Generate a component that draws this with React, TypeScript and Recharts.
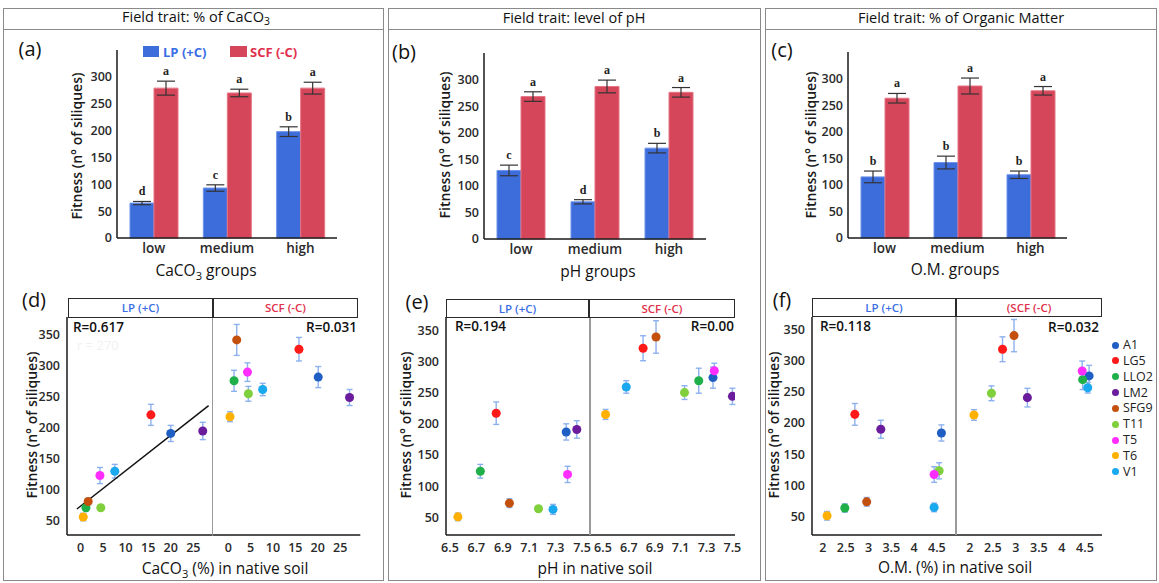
import React from "react";
import {
  BarChart,
  Bar,
  XAxis,
  YAxis,
  ErrorBar,
  LabelList,
  ScatterChart,
  Scatter,
  Cell,
  ReferenceLine,
} from "recharts";

// ---- bar panels (a)-(c) ----
const groups = ["low", "medium", "high"];

const caco3LP = [65, 93, 198];
const caco3LPErr = [3, 6, 9];
const caco3SCF = [279, 270, 279];
const caco3SCFErr = [13, 7, 11];
const caco3LPLetters = ["d", "c", "b"];
const caco3SCFLetters = ["a", "a", "a"];

const phLP = [129, 70, 171];
const phLPErr = [10, 4, 9];
const phSCF = [268, 287, 276];
const phSCFErr = [9, 12, 9];
const phLPLetters = ["c", "d", "b"];
const phSCFLetters = ["a", "a", "a"];

const omLP = [115, 142, 119];
const omLPErr = [11, 12, 7];
const omSCF = [263, 286, 277];
const omSCFErr = [9, 15, 8];
const omLPLetters = ["b", "b", "b"];
const omSCFLetters = ["a", "a", "a"];

const barTicks = [0, 50, 100, 150, 200, 250, 300];

// ---- scatter panels (d)-(f) ----
const lines = ["A1", "LG5", "LLO2", "LM2", "SFG9", "T11", "T5", "T6", "V1"];
const lineColors = ["#1f5fc4", "#ff1a1a", "#1fb04a", "#6a1c9c", "#c4500e", "#80cf3c", "#ff2eff", "#ffb000", "#1aa8ee"];

const caco3LPx = [20, 15.6, 1.2, 27.1, 1.7, 4.5, 4.3, 0.6, 7.6];
const caco3LPy = [190, 220, 70, 194, 80, 70, 122, 55, 129];
const caco3LPe = [13, 17, 5, 14, 5, 4, 13, 6, 11];
const caco3SCFx = [20.1, 15.8, 1.3, 27.1, 1.9, 4.5, 4.3, 0.4, 7.7];
const caco3SCFy = [281, 326, 275, 248, 341, 254, 289, 217, 261];
const caco3SCFe = [17, 19, 17, 13, 25, 12, 15, 8, 10];
const caco3Fit = [
  { x: -0.8, y: 68 },
  { x: 28.4, y: 235 },
];

const phLPx = [7.38, 6.85, 6.73, 7.46, 6.95, 7.17, 7.39, 6.56, 7.28];
const phLPy = [187, 217, 124, 191, 73, 64, 119, 51, 63];
const phLPe = [13, 18, 11, 14, 7, 4, 13, 6, 8];
const phSCFx = [7.35, 6.81, 7.24, 7.5, 6.91, 7.13, 7.36, 6.52, 6.68];
const phSCFy = [274, 321, 269, 244, 339, 250, 285, 215, 259];
const phSCFe = [17, 20, 20, 13, 26, 11, 12, 8, 10];

const omLPx = [4.6, 2.7, 2.48, 3.27, 2.96, 4.55, 4.44, 2.09, 4.44];
const omLPy = [184, 214, 63, 190, 73, 123, 117, 50.5, 64];
const omLPe = [13, 17.5, 6.7, 14.5, 7, 13, 12.6, 7, 7];
const omSCFx = [4.59, 2.71, 4.45, 3.25, 2.96, 2.47, 4.44, 2.09, 4.56];
const omSCFy = [276, 319, 270, 241, 341, 248, 284, 213, 257];
const omSCFe = [17, 20, 16, 15, 26, 12, 16, 8.6, 8.6];

const scatterTicks = [50, 100, 150, 200, 250, 300, 350];
const caco3Ticks = [0, 5, 10, 15, 20, 25];
const phTicks = [6.5, 6.7, 6.9, 7.1, 7.3, 7.5];
const omTicks = [2, 2.5, 3, 3.5, 4, 4.5];

const FONT = "'Open Sans', 'DejaVu Sans', sans-serif";
const BLUE = "#3d6ddb";
const RED = "#d5465a";
const LPTXT = "#3a6ee6";
const SCFTXT = "#e0304c";

const tickStyle = { fontSize: 12.5, fontWeight: 600, fill: "#2a2a2a", fontFamily: FONT };

function letterLabel(letters: string[], errs: number[], vals: number[]) {
  return (props: any) => {
    const vb = props.viewBox && props.viewBox.width !== undefined ? props.viewBox : props;
    const { x, y, width, height } = vb;
    const i = props.index;
    if (i === undefined || !height) return null;
    const errPx = (errs[i] / vals[i]) * height;
    return (
      <text
        x={x + width / 2}
        y={y - errPx - 6}
        textAnchor="middle"
        fontFamily="'Liberation Serif', serif"
        fontWeight={700}
        fontSize={12}
        fill="#222"
      >
        {letters[i]}
      </text>
    );
  };
}

interface BarPanelProps {
  px: number;
  py: number;
  pw: number;
  ph: number;
  lp: number[];
  lpErr: number[];
  scf: number[];
  scfErr: number[];
  lpLetters: string[];
  scfLetters: string[];
}

function BarPanel({ px, py, pw, ph, lp, lpErr, scf, scfErr, lpLetters, scfLetters }: BarPanelProps) {
  const data = groups.map((g, i) => ({ group: g, lp: lp[i], lpErr: lpErr[i], scf: scf[i], scfErr: scfErr[i] }));
  const yw = 40;
  const xh = 30;
  return (
    <div style={{ position: "absolute", left: px - yw, top: py }}>
      <BarChart
        width={pw + yw + 10}
        height={ph + xh}
        data={data}
        margin={{ top: 0, right: 10, bottom: 0, left: 0 }}
        barGap={0}
        barSize={24}
      >
        <XAxis
          dataKey="group"
          height={xh}
          tickLine={false}
          tickSize={0}
          tickMargin={5}
          axisLine={{ stroke: "#1a1a1a", strokeWidth: 1.5 }}
          tick={{ ...tickStyle, fontSize: 13.5 }}
        />
        <YAxis
          type="number"
          domain={[0, 350]}
          ticks={barTicks}
          width={yw}
          tickLine={false}
          tickSize={0}
          tickMargin={5}
          axisLine={{ stroke: "#1a1a1a", strokeWidth: 1.5 }}
          tick={tickStyle}
        />
        <Bar dataKey="lp" fill={BLUE} stroke="#6d92ea" strokeWidth={1} isAnimationActive={false}>
          <ErrorBar dataKey="lpErr" direction="y" width={9} stroke="#333" strokeWidth={1.2} />
          <LabelList dataKey="lp" content={letterLabel(lpLetters, lpErr, lp)} />
        </Bar>
        <Bar dataKey="scf" fill={RED} stroke="#e57585" strokeWidth={1} isAnimationActive={false}>
          <ErrorBar dataKey="scfErr" direction="y" width={9} stroke="#333" strokeWidth={1.2} />
          <LabelList dataKey="scf" content={letterLabel(scfLetters, scfErr, scf)} />
        </Bar>
      </BarChart>
    </div>
  );
}

interface FacetProps {
  px: number;
  py: number;
  pw: number;
  ph: number;
  xs: number[];
  ys: number[];
  es: number[];
  domainX: [number, number];
  domainY: [number, number];
  ticksX: number[];
  showY: boolean;
  fit?: { x: number; y: number }[];
}

function Facet({ px, py, pw, ph, xs, ys, es, domainX, domainY, ticksX, showY, fit }: FacetProps) {
  const pts = lines.map((name, i) => ({ name, x: xs[i], y: ys[i], err: es[i] }));
  const yw = showY ? 50 : 0;
  const xh = 30;
  return (
    <div style={{ position: "absolute", left: px - yw, top: py }}>
      <ScatterChart width={pw + yw + 12} height={ph + xh} margin={{ top: 0, right: 12, bottom: 0, left: 0 }}>
        <XAxis
          type="number"
          dataKey="x"
          domain={domainX}
          ticks={ticksX}
          allowDataOverflow
          interval={0}
          height={xh}
          tickLine={false}
          tickSize={0}
          tickMargin={8}
          axisLine={{ stroke: "#1a1a1a", strokeWidth: 1.5 }}
          tick={tickStyle}
        />
        <YAxis
          type="number"
          dataKey="y"
          domain={domainY}
          ticks={scatterTicks}
          allowDataOverflow
          interval={0}
          width={yw}
          hide={!showY}
          tickLine={false}
          tickSize={0}
          tickMargin={7}
          axisLine={{ stroke: "#1a1a1a", strokeWidth: 1.5 }}
          tick={tickStyle}
        />
        <Scatter data={pts} isAnimationActive={false}>
          {pts.map((p, i) => (
            <Cell key={p.name} fill={lineColors[i]} />
          ))}
          <ErrorBar dataKey="err" direction="y" width={3} stroke="#8db1ee" strokeWidth={1.4} />
        </Scatter>
        {fit && <ReferenceLine segment={fit} stroke="#111" strokeWidth={1.5} ifOverflow="visible" />}
      </ScatterChart>
    </div>
  );
}

function T({ x, y, children, size = 13, weight = 400, color = "#111", anchor = "center", family = FONT }: any) {
  const tx = anchor === "center" ? "-50%" : anchor === "end" ? "-100%" : "0";
  return (
    <div
      style={{
        position: "absolute",
        left: x,
        top: y,
        transform: `translate(${tx}, -50%)`,
        fontSize: size,
        fontWeight: weight,
        color,
        fontFamily: family,
        whiteSpace: "nowrap",
        lineHeight: 1,
      }}
    >
      {children}
    </div>
  );
}

function RotLabel({ x, y, children }: any) {
  return (
    <div
      style={{
        position: "absolute",
        left: x,
        top: y,
        transform: "translate(-50%, -50%) rotate(-90deg)",
        fontSize: 14,
        fontWeight: 600,
        color: "#1a1a1a",
        fontFamily: FONT,
        whiteSpace: "nowrap",
        lineHeight: 1,
      }}
    >
      {children}
    </div>
  );
}

const Sub3 = () => <span style={{ fontSize: "0.72em", verticalAlign: "-0.3em" }}>3</span>;

function Box({ l, t, w, h, border = "1px solid #8a8a8a", bg }: any) {
  return <div style={{ position: "absolute", left: l, top: t, width: w, height: h, border, boxSizing: "border-box", background: bg }} />;
}

function VLine({ x, y1, y2, color = "#9a9a9a", w = 1.5 }: any) {
  return <div style={{ position: "absolute", left: x - w / 2, top: y1, width: w, height: y2 - y1, background: color }} />;
}

function FacetHeader({ x1, x2, xm, y1, y2, right }: any) {
  return (
    <>
      <Box l={x1} t={y1} w={x2 - x1} h={y2 - y1 + 1} border="1.5px solid #2a2a2a" bg="#fff" />
      <VLine x={xm} y1={y1} y2={y2} color="#2a2a2a" w={1.5} />
      <T x={(x1 + xm) / 2} y={(y1 + y2) / 2 + 0.5} size={11.5} weight={600} color={LPTXT}>
        LP (+C)
      </T>
      <T x={(xm + x2) / 2} y={(y1 + y2) / 2 + 0.5} size={11.5} weight={600} color={SCFTXT}>
        {right}
      </T>
    </>
  );
}

export default function App() {
  return (
    <div
      style={{
        position: "fixed",
        left: 0,
        top: 0,
        width: 1159,
        height: 583,
        background: "#fff",
        fontFamily: FONT,
        overflow: "hidden",
      }}
    >
      {/* frame */}
      <Box l={3} t={8} w={381} h={573} />
      <Box l={388} t={8} w={373} h={573} />
      <Box l={765} t={8} w={392} h={573} />
      <div style={{ position: "absolute", left: 3, top: 29, width: 381, height: 1, background: "#8a8a8a" }} />
      <div style={{ position: "absolute", left: 388, top: 29, width: 373, height: 1, background: "#8a8a8a" }} />
      <div style={{ position: "absolute", left: 765, top: 29, width: 392, height: 1, background: "#8a8a8a" }} />

      <T x={196} y={18} size={14.5} weight={500}>
        Field trait: % of CaCO<Sub3 />
      </T>
      <T x={574} y={18} size={14.5} weight={500}>
        Field trait: level of pH
      </T>
      <T x={961} y={18} size={14.5} weight={500}>
        Field trait: % of Organic Matter
      </T>

      {/* bar charts */}
      <BarPanel px={117} py={50} pw={220} ph={188} lp={caco3LP} lpErr={caco3LPErr} scf={caco3SCF} scfErr={caco3SCFErr} lpLetters={caco3LPLetters} scfLetters={caco3SCFLetters} />
      <BarPanel px={484} py={53} pw={222} ph={186} lp={phLP} lpErr={phLPErr} scf={phSCF} scfErr={phSCFErr} lpLetters={phLPLetters} scfLetters={phSCFLetters} />
      <BarPanel px={848} py={52} pw={219} ph={186} lp={omLP} lpErr={omLPErr} scf={omSCF} scfErr={omSCFErr} lpLetters={omLPLetters} scfLetters={omSCFLetters} />

      {/* bar legend */}
      <div style={{ position: "absolute", left: 143, top: 46, width: 16, height: 11, background: BLUE }} />
      <T x={163} y={52} size={13} weight={700} color={LPTXT} anchor="start">
        LP (+C)
      </T>
      <div style={{ position: "absolute", left: 230, top: 46, width: 17, height: 11, background: RED }} />
      <T x={250} y={52} size={13} weight={700} color={SCFTXT} anchor="start">
        SCF (-C)
      </T>

      <T x={30} y={49} size={20}>(a)</T>
      <T x={404} y={52} size={20}>(b)</T>
      <T x={782} y={50} size={20}>(c)</T>
      <T x={34} y={300} size={20}>(d)</T>
      <T x={417} y={302} size={20}>(e)</T>
      <T x={782} y={300} size={20}>(f)</T>

      <RotLabel x={77} y={146}>Fitness (n° of siliques)</RotLabel>
      <RotLabel x={445} y={145}>Fitness (n° of siliques)</RotLabel>
      <RotLabel x={811} y={145}>Fitness (n° of siliques)</RotLabel>
      <RotLabel x={32} y={425}>Fitness (n° of siliques)</RotLabel>
      <RotLabel x={406} y={425}>Fitness (n° of siliques)</RotLabel>
      <RotLabel x={774} y={425}>Fitness (n° of siliques)</RotLabel>

      <T x={206} y={272} size={15.5} weight={500}>
        CaCO<Sub3 /> groups
      </T>
      <T x={598} y={272} size={15.5} weight={500}>
        pH groups
      </T>
      <T x={955} y={270} size={15.5} weight={500}>
        O.M. groups
      </T>

      {/* scatter facets */}
      <Facet px={67} py={317} pw={145.7} ph={218} xs={caco3LPx} ys={caco3LPy} es={caco3LPe} domainX={[-3.0, 29.3]} domainY={[26, 378]} ticksX={caco3Ticks} showY fit={caco3Fit} />
      <Facet px={212.7} py={317} pw={147.3} ph={218} xs={caco3SCFx} ys={caco3SCFy} es={caco3SCFe} domainX={[-3.4, 29.5]} domainY={[26, 378]} ticksX={caco3Ticks} showY={false} />
      <Facet px={446} py={317} pw={144} ph={218} xs={phLPx} ys={phLPy} es={phLPe} domainX={[6.47, 7.56]} domainY={[22, 371]} ticksX={phTicks} showY />
      <Facet px={590} py={317} pw={145} ph={218} xs={phSCFx} ys={phSCFy} es={phSCFe} domainX={[6.4, 7.52]} domainY={[22, 371]} ticksX={phTicks} showY={false} />
      <Facet px={812} py={317} pw={144} ph={218} xs={omLPx} ys={omLPy} es={omLPe} domainX={[1.76, 4.92]} domainY={[19.5, 371]} ticksX={omTicks} showY />
      <Facet px={956} py={317} pw={146} ph={218} xs={omSCFx} ys={omSCFy} es={omSCFe} domainX={[1.7, 4.87]} domainY={[19.5, 371]} ticksX={omTicks} showY={false} />

      <VLine x={212.7} y1={317} y2={535} />
      <VLine x={590} y1={317} y2={535} />
      <VLine x={956} y1={317} y2={535} />

      <FacetHeader x1={68} x2={358} xm={213} y1={298} y2={317} right="SCF (-C)" />
      <FacetHeader x1={446} x2={735} xm={589} y1={299} y2={317} right="SCF (-C)" />
      <FacetHeader x1={812} x2={1102} xm={956} y1={298} y2={316} right="(SCF (-C)" />

      <T x={73} y={328} size={13.5} weight={600} anchor="start">R=0.617</T>
      <T x={77} y={345} size={13} color="#f1f1f1" anchor="start">r = 270</T>
      <T x={357} y={328} size={13.5} weight={600} anchor="end">R=0.031</T>
      <T x={455} y={327} size={13.5} weight={600} anchor="start">R=0.194</T>
      <T x={734} y={327} size={13.5} weight={600} anchor="end">R=0.00</T>
      <T x={820} y={327} size={13.5} weight={600} anchor="start">R=0.118</T>
      <T x={1099} y={328} size={13.5} weight={600} anchor="end">R=0.032</T>

      <T x={225} y={570} size={15.5} weight={500}>
        CaCO<Sub3 /> (%) in native soil
      </T>
      <T x={595} y={569} size={15.5} weight={500}>
        pH in native soil
      </T>
      <T x={955} y={568} size={15.5} weight={500}>
        O.M. (%) in native soil
      </T>

      {/* line legend */}
      {lines.map((name, i) => (
        <React.Fragment key={name}>
          <div
            style={{
              position: "absolute",
              left: 1115 - 3.5,
              top: 345 + i * 15.85 - 3.5,
              width: 7,
              height: 7,
              borderRadius: "50%",
              background: lineColors[i],
            }}
          />
          <T x={1123} y={345 + i * 15.85} size={12.5} weight={500} color="#222" anchor="start">
            {name}
          </T>
        </React.Fragment>
      ))}
    </div>
  );
}
